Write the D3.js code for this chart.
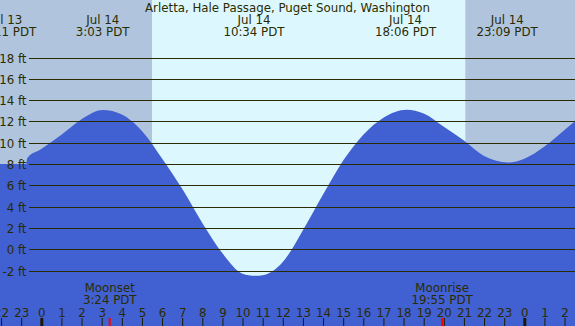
<!DOCTYPE html>
<html>
<head>
<meta charset="utf-8">
<script src="https://cdn.jsdelivr.net/npm/d3@7/dist/d3.min.js"></script>
<style>
  html, body { margin: 0; padding: 0; background: #b0c4de; }
  svg { display: block; }
  text { font-family: "DejaVu Sans", sans-serif; font-size: 11.8px; fill: #2b2b00; }
</style>
</head>
<body>
<svg id="chart" width="575" height="326"></svg>
<script>
// ---- data (hours relative to Jul 14 00:00 PDT) ----
const title = "Arletta, Hale Passage, Puget Sound, Washington";

const tideHours   = [-2.1, -0.75, -0.7, 0, 1, 2, 3.05, 4, 5, 6, 7, 8, 9, 10, 10.62, 11, 12, 13, 14, 15, 16, 17, 18.16, 19, 20, 21, 22, 23.21, 24, 25, 26, 26.7];
const tideHeights = [8.0, 8.0, 8.55, 9.4, 10.75, 12.2, 13.06, 12.65, 11.1, 8.52, 5.67, 2.47, -0.38, -2.3, -2.5, -2.44, -1.2, 1.79, 5.13, 8.32, 10.75, 12.35, 13.09, 12.74, 11.5, 10.2, 8.75, 8.14, 8.5, 9.65, 11.2, 12.3];

const extremeHours = [-1.77, 3.05, 10.567, 18.1, 23.15];
const extremeDates = ["Jul 13", "Jul 14", "Jul 14", "Jul 14", "Jul 14"];
const extremeTimes = ["22:11 PDT", "3:03 PDT", "10:34 PDT", "18:06 PDT", "23:09 PDT"];

const sunriseHour = 5.5;
const sunsetHour = 21.07;

const moonHours = [3.4, 19.917];
const moonNames = ["Moonset", "Moonrise"];
const moonTimes = ["3:24 PDT", "19:55 PDT"];

const gridFeet = [-2, 0, 2, 4, 6, 8, 10, 12, 14, 16, 18];
const hourTicks = d3.range(-2, 27);

// ---- layout ----
const W = 575, H = 326;
const svg = d3.select("#chart");
const x = d3.scaleLinear().domain([0, 24]).range([41.3, 524.3]);
const y = d3.scaleLinear().domain([-2, 18]).range([270.5, 57.5]);

// sky: night and day
svg.append("rect").attr("x", 0).attr("y", 0).attr("width", W).attr("height", H).attr("fill", "#b0c4de");
svg.append("rect")
  .attr("x", x(sunriseHour)).attr("y", 0)
  .attr("width", x(sunsetHour) - x(sunriseHour)).attr("height", H)
  .attr("fill", "#dcf8fe");

// water
const tide = tideHours.map((t, i) => ({t, v: tideHeights[i]}));
const area = d3.area()
  .x(d => x(d.t))
  .y0(H)
  .y1(d => y(d.v))
  .curve(d3.curveMonotoneX);
svg.append("path").datum(tide).attr("d", area).attr("fill", "#4160d2");

// grid lines + labels
const g = svg.append("g");
g.selectAll("line").data(gridFeet).join("line")
  .attr("x1", 29).attr("x2", W)
  .attr("y1", d => Math.round(y(d)) + 0.5).attr("y2", d => Math.round(y(d)) + 0.5)
  .attr("stroke", "#2b2b00").attr("stroke-width", 1);
g.selectAll("text").data(gridFeet).join("text")
  .attr("x", 26.5).attr("y", d => Math.round(y(d)) + 0.5)
  .attr("dy", "0.36em")
  .attr("text-anchor", "end")
  .text(d => d + " ft");

// title
svg.append("text").attr("x", 287.5).attr("y", 11.5).attr("text-anchor", "middle").text(title);

// extreme labels
const ex = svg.append("g");
extremeHours.forEach((h, i) => {
  ex.append("text").attr("x", x(h)).attr("y", 24).attr("text-anchor", "middle").text(extremeDates[i]);
  ex.append("text").attr("x", x(h)).attr("y", 36).attr("text-anchor", "middle").text(extremeTimes[i]);
});

// moon labels
moonHours.forEach((h, i) => {
  svg.append("text").attr("x", x(h)).attr("y", 291.5).attr("text-anchor", "middle").text(moonNames[i]);
  svg.append("text").attr("x", x(h)).attr("y", 304).attr("text-anchor", "middle").text(moonTimes[i]);
});

// hour axis at bottom
const axis = d3.axisTop(x)
  .tickValues(hourTicks)
  .tickSize(8)
  .tickPadding(1.5)
  .tickFormat(d => String(((d % 24) + 24) % 24));
const ax = svg.append("g").attr("transform", `translate(0,${H})`).call(axis);
ax.select(".domain").remove();
ax.selectAll("text").attr("font-family", null).attr("font-size", null).attr("fill", null)
  .style("font-family", "'DejaVu Sans', sans-serif").style("font-size", "11.8px").style("fill", "#2b2b00");
ax.selectAll(".tick line")
  .attr("stroke", "#1a1a00")
  .attr("stroke-width", d => (((d % 24) + 24) % 24) === 0 ? 3 : 1);

// moon event ticks (red)
svg.selectAll(".moontick").data(moonHours).join("line")
  .attr("class", "moontick")
  .attr("x1", d => x(d)).attr("x2", d => x(d))
  .attr("y1", H - 8).attr("y2", H)
  .attr("stroke", "#ff0000").attr("stroke-width", 2);
</script>
</body>
</html>
